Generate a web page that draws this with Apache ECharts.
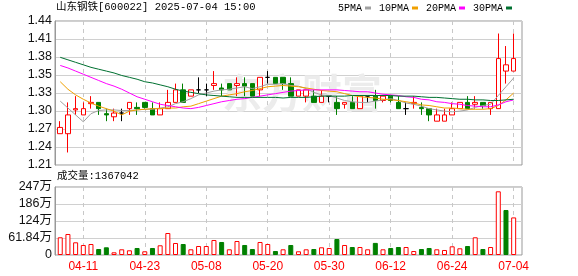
<!DOCTYPE html>
<html><head><meta charset="utf-8">
<script src="https://cdn.jsdelivr.net/npm/echarts@6/dist/echarts.min.js"></script>
<style>html,body{margin:0;padding:0;background:#fff}#c{width:578px;height:276px}</style>
</head><body><div id="c"></div>
<script>
const stockTitle = '山东钢铁[600022] 2025-07-04 15:00';
const dates = ['04-08','04-09','04-10','04-11','04-14','04-15','04-16','04-17','04-18','04-21','04-22','04-23','04-24','04-25','04-28','04-29','04-30',
 '05-06','05-07','05-08','05-09','05-12','05-13','05-14','05-15','05-16','05-19','05-20','05-21','05-22','05-23','05-26','05-27','05-28','05-29','05-30',
 '06-03','06-04','06-05','06-06','06-09','06-10','06-11','06-12','06-13','06-16','06-17','06-18','06-19','06-20','06-23','06-24','06-25','06-26','06-27','06-30',
 '07-01','07-02','07-03','07-04'];
const openP  = [1.26,1.26,1.298,1.29,1.308,1.31,1.292,1.287,1.293,1.30,1.302,1.31,1.30,1.29,1.30,1.31,1.33,1.32,1.33,1.33,1.337,1.333,1.34,1.337,1.34,1.34,1.33,1.35,1.35,1.35,
 1.34,1.32,1.32,1.32,1.31,1.32,1.31,1.307,1.31,1.30,1.32,1.32,1.313,1.32,1.31,1.30,1.308,1.302,1.30,1.28,1.28,1.29,1.30,1.31,1.307,1.31,1.30,1.30,1.36,1.36];
const closeP = [1.27,1.29,1.30,1.30,1.31,1.30,1.29,1.293,1.293,1.31,1.30,1.302,1.29,1.30,1.31,1.33,1.31,1.33,1.33,1.33,1.34,1.33,1.33,1.34,1.336,1.32,1.35,1.35,1.34,1.34,
 1.32,1.33,1.33,1.31,1.32,1.32,1.30,1.31,1.30,1.32,1.32,1.313,1.32,1.313,1.30,1.30,1.31,1.30,1.29,1.29,1.29,1.30,1.31,1.30,1.31,1.305,1.31,1.38,1.37,1.38];
const lowP   = [1.26,1.23,1.29,1.29,1.30,1.29,1.28,1.28,1.28,1.29,1.29,1.30,1.29,1.29,1.30,1.31,1.31,1.32,1.325,1.32,1.33,1.32,1.33,1.32,1.32,1.32,1.32,1.34,1.34,1.33,
 1.32,1.32,1.31,1.31,1.31,1.31,1.29,1.30,1.30,1.30,1.31,1.30,1.31,1.31,1.30,1.29,1.30,1.29,1.28,1.28,1.28,1.29,1.30,1.30,1.30,1.30,1.29,1.30,1.34,1.36];
const highP  = [1.28,1.31,1.32,1.31,1.32,1.31,1.30,1.30,1.30,1.31,1.31,1.31,1.31,1.31,1.33,1.34,1.34,1.33,1.35,1.34,1.36,1.34,1.34,1.35,1.35,1.34,1.35,1.36,1.35,1.35,
 1.35,1.33,1.33,1.33,1.33,1.32,1.32,1.31,1.32,1.32,1.32,1.33,1.32,1.32,1.32,1.31,1.32,1.31,1.30,1.30,1.30,1.31,1.31,1.32,1.32,1.31,1.31,1.42,1.40,1.42];
const volume = [644000,764000,462000,364000,400000,218000,280000,98000,207000,171000,255000,135000,255000,353000,800000,436000,400000,207000,327000,327000,
 546000,473000,207000,509000,364000,218000,473000,400000,145000,207000,364000,135000,207000,218000,280000,255000,582000,364000,291000,291000,
 207000,440000,207000,255000,291000,291000,145000,218000,255000,207000,182000,316000,244000,327000,644000,218000,291000,2317000,1637000,1367042];
const ma5  = [1.312,1.301,1.290,1.279,1.292,1.297,1.298,1.298,1.297,1.297,1.298,1.299,1.299,1.301,1.303,1.308,1.311,1.316,1.322,1.325,1.328,1.330,1.331,1.333,1.335,1.332,1.335,1.339,1.339,1.340,
 1.337,1.336,1.332,1.326,1.322,1.321,1.317,1.313,1.311,1.310,1.310,1.312,1.314,1.316,1.313,1.309,1.307,1.304,1.300,1.298,1.296,1.295,1.296,1.298,1.302,1.305,1.307,1.321,1.335,1.349];
const ma10 = [1.343,1.331,1.322,1.315,1.309,1.304,1.300,1.296,1.290,1.296,1.298,1.299,1.300,1.300,1.301,1.301,1.303,1.304,1.308,1.312,1.316,1.320,1.322,1.324,1.327,1.329,1.332,1.335,1.336,1.337,
 1.336,1.335,1.333,1.331,1.329,1.328,1.327,1.324,1.321,1.319,1.318,1.317,1.315,1.314,1.313,1.311,1.309,1.306,1.305,1.303,1.301,1.301,1.300,1.299,1.299,1.299,1.300,1.305,1.314,1.325];
const ma20 = [1.369,1.365,1.360,1.355,1.350,1.345,1.340,1.336,1.331,1.325,1.319,1.315,1.311,1.307,1.305,1.303,1.301,1.300,1.302,1.305,1.308,1.311,1.313,1.315,1.316,1.318,1.320,1.322,1.324,1.326,
 1.328,1.329,1.330,1.330,1.330,1.330,1.330,1.329,1.328,1.327,1.327,1.325,1.323,1.322,1.321,1.319,1.318,1.315,1.314,1.311,1.310,1.308,1.307,1.305,1.304,1.303,1.303,1.306,1.311,1.314];
const ma30 = [1.382,1.378,1.374,1.370,1.366,1.363,1.360,1.357,1.353,1.350,1.347,1.343,1.341,1.338,1.335,1.331,1.328,1.326,1.324,1.322,1.321,1.320,1.319,1.318,1.318,1.318,1.318,1.318,1.318,1.317,
 1.318,1.318,1.318,1.319,1.320,1.320,1.320,1.320,1.321,1.321,1.321,1.321,1.321,1.321,1.320,1.320,1.320,1.319,1.318,1.318,1.317,1.316,1.315,1.315,1.314,1.314,1.313,1.313,1.314,1.315];
const priceTickLabels = ['1.21','1.24','1.27','1.30','1.33','1.35','1.38','1.41','1.44'];
const priceRange = [1.21, 1.44];
const volumeTickLabels = ['0','61.84万','124万','186万','247万'];
const volumeMax = 2473600;
const xLabelDates = ['04-11','04-23','05-08','05-20','05-30','06-12','06-24','07-04'];
const maNames = ['5PMA','10PMA','20PMA','30PMA'];

const RED = '#ff0000', GREEN = '#008000';
const MA_COLORS = ['#a0a0a0', '#f0a000', '#ff00ff', '#007030'];
const monoFont = '"Liberation Mono","Noto Sans CJK SC",monospace';
const sansFont = '"Liberation Sans","Noto Sans CJK SC",sans-serif';

const kData = dates.map((d, i) => [openP[i], closeP[i], lowP[i], highP[i]]);
const volData = volume.map((v, i) => {
  const up = i === 0 || closeP[i] >= closeP[i - 1];
  return { value: v, itemStyle: up ? { color: '#fff', borderColor: RED, borderWidth: 1 } : { color: GREEN, borderColor: GREEN, borderWidth: 1 } };
});
const labelSet = new Set(xLabelDates);
const PL = 55, PW = 467, DL = 56.4, DW = 461.1;
const PT = 21, PH = 144, VT = 187, VH = 68;

const dashedSplit = { show: true, interval: (i, v) => labelSet.has(v), alignWithLabel: true, lineStyle: { color: '#c8c8c8', type: [4, 4], width: 1 } };

const chart = echarts.init(document.getElementById('c'), null, { renderer: 'canvas' });
chart.setOption({
  animation: false,
  backgroundColor: '#fff',
  title: [
    { text: stockTitle, left: 56, top: 2, padding: 0, textStyle: { fontFamily: monoFont, fontSize: 10.5, fontWeight: 'normal', color: '#000' } },
    { text: '成交量:' + volume[volume.length - 1], left: 57, top: 171, padding: 0, textStyle: { fontFamily: monoFont, fontSize: 10.5, fontWeight: 'normal', color: '#000' } }
  ],
  legend: {
    data: maNames, left: 338, top: 3, padding: 0, itemGap: 8, itemWidth: 6, itemHeight: 3, icon: 'rect', align: 'right',
    textStyle: { fontFamily: monoFont, fontSize: 10, color: '#000', padding: [0, -2, 0, 0] }, selectedMode: false
  },
  graphic: [
    { type: 'text', left: 222, top: 73, z: 1, silent: true, style: { text: '东方财富', fontSize: 40, fontWeight: 'bold', fontFamily: '"Noto Sans CJK SC"', fill: '#ececec' } }
  ],
  grid: [
    { left: PL, top: PT, width: PW, height: PH, show: true, borderColor: '#999', borderWidth: 1 },
    { left: DL, top: PT, width: DW, height: PH },
    { left: PL, top: VT, width: PW, height: VH, show: true, borderColor: '#999', borderWidth: 1 },
    { left: DL, top: VT, width: DW, height: VH }
  ],
  xAxis: [
    { gridIndex: 0, type: 'value', min: 0, max: 1, show: false },
    { gridIndex: 1, type: 'category', data: dates, boundaryGap: true, axisLine: { show: false }, axisTick: { show: false, alignWithLabel: true }, axisLabel: { show: false }, splitLine: dashedSplit },
    { gridIndex: 2, type: 'value', min: 0, max: 1, show: false },
    { gridIndex: 3, type: 'category', data: dates, boundaryGap: true, axisLine: { show: false }, axisTick: { show: false, alignWithLabel: true },
      axisLabel: { show: true, interval: (i, v) => labelSet.has(v), color: RED, fontFamily: sansFont, fontSize: 12, margin: 6 }, splitLine: dashedSplit }
  ],
  yAxis: [
    { gridIndex: 0, type: 'value', min: 0, max: priceTickLabels.length - 1, interval: 1,
      axisLine: { show: true, lineStyle: { color: '#999' } }, axisTick: { show: false },
      axisLabel: { formatter: v => priceTickLabels[v], color: '#111', fontFamily: sansFont, fontSize: 12.5, margin: 3 },
      splitLine: { show: true, lineStyle: { color: '#d0d0d0', width: 1 } } },
    { gridIndex: 1, type: 'value', min: priceRange[0], max: priceRange[1], show: false, splitLine: { show: false } },
    { gridIndex: 2, type: 'value', min: 0, max: volumeTickLabels.length - 1, interval: 1,
      axisLine: { show: true, lineStyle: { color: '#999' } }, axisTick: { show: false },
      axisLabel: { formatter: v => volumeTickLabels[v], color: '#111', fontFamily: sansFont, fontSize: 12.5, margin: 3 },
      splitLine: { show: true, lineStyle: { color: '#d0d0d0', width: 1 } } },
    { gridIndex: 3, type: 'value', min: 0, max: volumeMax, show: false, splitLine: { show: false } }
  ],
  series: [
    { type: 'candlestick', name: 'K', xAxisIndex: 1, yAxisIndex: 1, data: kData, barWidth: 5, z: 3,
      itemStyle: { color: '#fff', color0: GREEN, borderColor: RED, borderColor0: GREEN, borderColorDoji: '#000', borderWidth: 1 } },
    ...[ma5, ma10, ma20, ma30].map((d, k) => ({
      type: 'line', name: maNames[k], xAxisIndex: 1, yAxisIndex: 1, data: d, showSymbol: false, symbol: 'none', z: 4,
      itemStyle: { color: MA_COLORS[k] }, lineStyle: { color: MA_COLORS[k], width: 1 }
    })),
    { type: 'bar', name: 'VOL', xAxisIndex: 3, yAxisIndex: 3, data: volData, barWidth: 5, z: 3 }
  ]
});
</script></body></html>
